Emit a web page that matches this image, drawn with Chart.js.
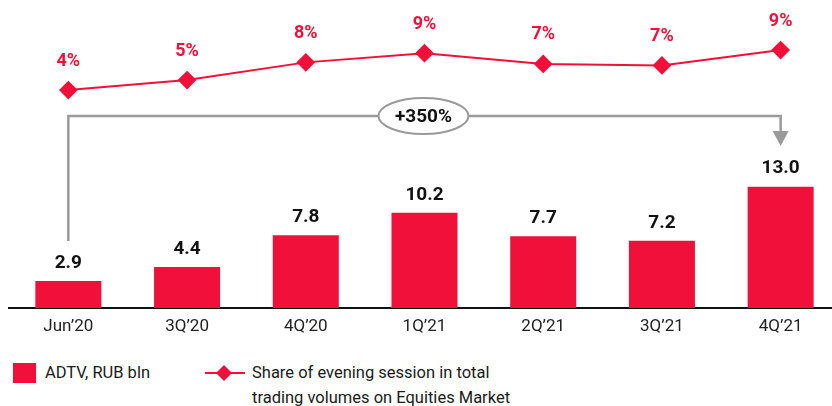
<!DOCTYPE html>
<html>
<head>
<meta charset="utf-8">
<script src="https://cdn.jsdelivr.net/npm/chart.js@4/dist/chart.umd.min.js"></script>
<style>
    html, body { margin: 0; padding: 0; background: #fff; overflow: hidden; width: 832px; height: 406px; }
    #chart { position: absolute; left: 0; top: 0; }
    .legend { position: absolute; font-family: Roboto, sans-serif; font-size: 16.5px; color: #1a1a1a; line-height: 25px; }
    .swatch { position: absolute; left: 13px; top: 363px; width: 23px; height: 20px; background: #f0103a; }
</style>
</head>
<body>
<canvas id="chart" width="840" height="340"></canvas>
<div class="swatch"></div>
<div class="legend" style="left:45px; top:360px;">ADTV, RUB bln</div>
<svg style="position:absolute; left:203px; top:363px;" width="44" height="20">
    <line x1="2" y1="10" x2="42" y2="10" stroke="#f0103a" stroke-width="2"/>
    <polygon points="21,2 29,10 21,18 13,10" fill="#f0103a"/>
</svg>
<div class="legend" style="left:252px; top:360px;">Share of evening session in total<br>trading volumes on Equities Market</div>

<script>
// --- DATA ---
const categories = ['Jun’20', '3Q’20', '4Q’20', '1Q’21', '2Q’21', '3Q’21', '4Q’21'];
const adtvValues = [2.9, 4.4, 7.8, 10.2, 7.7, 7.2, 13.0];
const eveningShare = [4.0, 5.3, 7.6, 8.8, 7.4, 7.2, 9.2];
const growthLabel = '+350%';

const RED = '#f0103a';
const GREY = '#9a9a9a';

// value labels over bars and points + the growth bracket
const labelsPlugin = {
    id: 'labels',
    afterDatasetsDraw(chart) {
        const ctx = chart.ctx;
        ctx.save();
        ctx.textAlign = 'center';
        ctx.textBaseline = 'middle';

        // bar values
        ctx.font = 'bold 19px Roboto';
        ctx.fillStyle = '#111';
        chart.getDatasetMeta(0).data.forEach((bar, i) => {
            ctx.fillText(adtvValues[i].toFixed(1), bar.x, bar.y - 18);
        });

        // share values
        ctx.fillStyle = RED;
        ctx.font = 'bold 18px Roboto';
        chart.getDatasetMeta(1).data.forEach((pt, i) => {
            ctx.fillText(Math.round(eveningShare[i]) + '%', pt.x, pt.y - 29);
        });

        // growth bracket from first to last bar
        const bars = chart.getDatasetMeta(0).data;
        const x0 = bars[0].x, x1 = bars[bars.length - 1].x;
        const yLine = 116;
        const cx = chart.scales.x.getPixelForValue(3) - 1;
        const rx = 45, ry = 18;
        ctx.strokeStyle = GREY;
        ctx.lineWidth = 2.5;
        ctx.beginPath();
        ctx.moveTo(x0, bars[0].y - 40);
        ctx.lineTo(x0, yLine);
        ctx.lineTo(cx - rx, yLine);
        ctx.moveTo(cx + rx, yLine);
        ctx.lineTo(x1, yLine);
        ctx.lineTo(x1, yLine + 16);
        ctx.stroke();
        ctx.fillStyle = GREY;
        ctx.beginPath();
        ctx.moveTo(x1 - 8, yLine + 15);
        ctx.lineTo(x1 + 8, yLine + 15);
        ctx.lineTo(x1, yLine + 30);
        ctx.closePath();
        ctx.fill();

        ctx.lineWidth = 2;
        ctx.fillStyle = '#fff';
        ctx.beginPath();
        ctx.ellipse(cx, yLine, rx, ry, 0, 0, Math.PI * 2);
        ctx.fill();
        ctx.stroke();
        ctx.fillStyle = '#111';
        ctx.font = 'bold 19px Roboto';
        ctx.fillText(growthLabel, cx, yLine + 1);
        ctx.restore();
    }
};

const ctx = document.getElementById('chart').getContext('2d');
new Chart(ctx, {
    data: {
        labels: categories,
        datasets: [
            {
                type: 'bar',
                label: 'ADTV, RUB bln',
                data: adtvValues,
                backgroundColor: RED,
                yAxisID: 'y',
                barPercentage: 0.556,
                categoryPercentage: 1,
                order: 2
            },
            {
                type: 'line',
                label: 'Share of evening session',
                data: eveningShare,
                borderColor: RED,
                backgroundColor: RED,
                borderWidth: 2,
                pointStyle: 'rectRot',
                pointRadius: 8,
                pointHoverRadius: 8,
                yAxisID: 'y2',
                order: 1
            }
        ]
    },
    options: {
        responsive: false,
        animation: false,
        layout: { autoPadding: false, padding: { left: 9, right: 0, top: 0, bottom: 0 } },
        plugins: { legend: { display: false }, tooltip: { enabled: false } },
        scales: {
            x: {
                grid: { display: false, drawTicks: false },
                border: { display: true, color: '#111', width: 2 },
                ticks: { color: '#222', font: { family: 'Roboto', size: 17 }, padding: 9 },
                afterFit: (s) => { s.height = 32; }
            },
            y: { display: false, min: 0, max: 33 },
            y2: { display: false, min: -24.3, max: 15.7 }
        }
    },
    plugins: [labelsPlugin]
});
</script>
</body>
</html>
